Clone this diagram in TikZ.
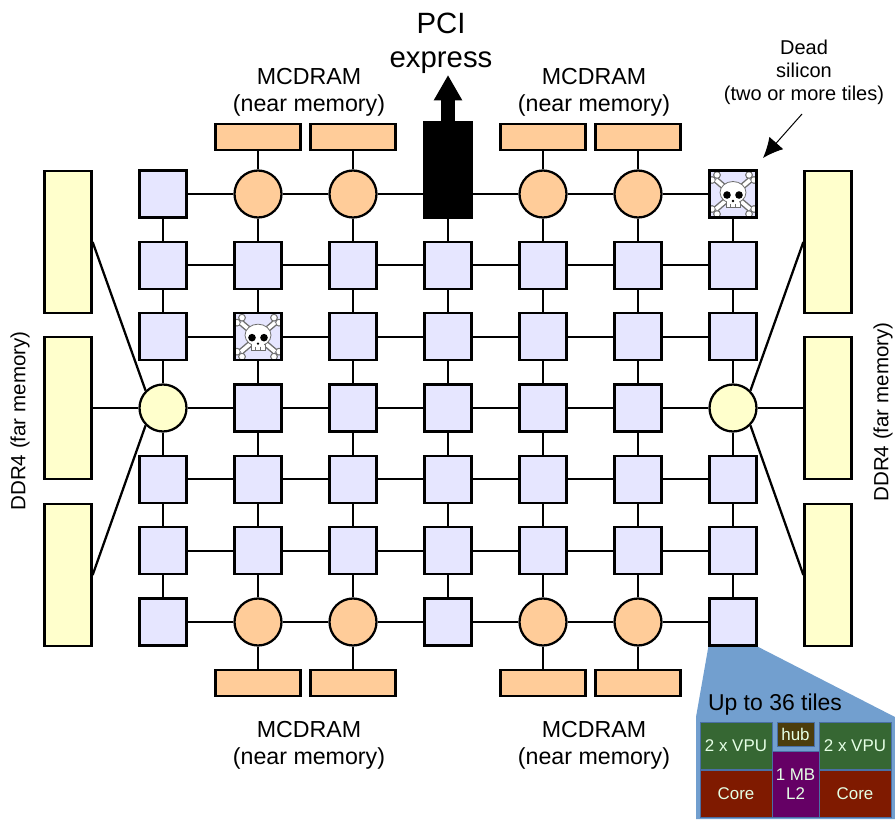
\documentclass[tikz,border=0pt]{standalone}
\usepackage{fontspec}
\setmainfont{Liberation Sans}
\usepackage{xcolor}
\usetikzlibrary{positioning, arrows.meta}

\definecolor{tilefill}{HTML}{E6E6FF}
\definecolor{nearfill}{HTML}{FFCC99}
\definecolor{farfill}{HTML}{FFFFCC}
\definecolor{insetblue}{HTML}{729FCF}
\definecolor{insetline}{HTML}{4A6FA5}
\definecolor{vpugreen}{HTML}{366733}
\definecolor{corered}{HTML}{7F1A00}
\definecolor{l2purple}{HTML}{650065}
\definecolor{hubbrown}{HTML}{4C3D0D}
\definecolor{boneline}{HTML}{6E6E6E}

\newcommand{\skullmark}{%
    \foreach \col/\wd/\knob in {boneline/4.8pt/3.9, white/2.7pt/2.7} {
        \foreach \sgn in {1,-1} {
            \draw[\col, line width=\wd] (-17*\sgn,-14) -- (17*\sgn,15);
            \fill[\col] (-21*\sgn,-14) circle (\knob) (-16*\sgn,-19) circle (\knob)
                        (16*\sgn,20) circle (\knob) (21*\sgn,15) circle (\knob);
        }
    }
    \draw[boneline, fill=white, line width=.6pt] (-7,5) rectangle (7,13.5);
    \draw[boneline, fill=white, line width=.6pt] (0,-1.5) ellipse (13 and 11);
    \fill[white] (-6,4) rectangle (6,11);
    \fill[black] (-6,1) circle (3.8) (6,1) circle (3.8) (0,7) circle (1.3);
    \draw[boneline, line width=.5pt] (-2.5,10) -- (-2.5,13.5) (2.5,10) -- (2.5,13.5);
}

\tikzset{
    tile/.style={draw, line width=1.7pt, fill=tilefill, minimum size=35.25pt, inner sep=0pt},
    deadtile/.style={tile, path picture={
        \begin{scope}[shift={(path picture bounding box.center)}] \skullmark \end{scope}}},
    nearhub/.style={draw, circle, line width=1.7pt, fill=nearfill, minimum size=35.25pt, inner sep=0pt},
    farhub/.style={draw, circle, line width=1.7pt, fill=farfill, minimum size=35.25pt, inner sep=0pt},
    pcihub/.style={tile, fill=black},
    nearbank/.style={draw, line width=1.7pt, fill=nearfill, minimum width=63.75pt, minimum height=19.5pt, inner sep=0pt},
    farbank/.style={draw, line width=1.7pt, fill=farfill, minimum width=35.25pt, minimum height=106.5pt, inner sep=0pt},
    link/.style={line width=1.7pt},
    caption/.style={align=center, font=\fontsize{17.4pt}{20pt}\selectfont},
    sidecaption/.style={rotate=90, font=\fontsize{15.4pt}{18pt}\selectfont},
    part/.style={draw=insetline, line width=.75pt, inner sep=0pt, align=center, text=white!90!green,
        font=\fontsize{12.7pt}{14.25pt}\selectfont},
}

\begin{document}
\begin{tikzpicture}[x=.75pt, y=-.75pt, on grid]
    \useasboundingbox (0,0) rectangle (895,819);

    % mesh of tiles
    \foreach \kinds [count=\r] in {
        {tile,nearhub,nearhub,pcihub,nearhub,nearhub,deadtile},
        {tile,tile,tile,tile,tile,tile,tile},
        {tile,deadtile,tile,tile,tile,tile,tile},
        {farhub,tile,tile,tile,tile,tile,farhub},
        {tile,tile,tile,tile,tile,tile,tile},
        {tile,tile,tile,tile,tile,tile,tile},
        {tile,nearhub,nearhub,tile,nearhub,nearhub,tile}} {
        \foreach \kind [count=\c] in \kinds {
            \node[\kind] (n\r\c) at ({68+95*\c},{194+71.33*(\r-1)}) {};
        }
    }

    \foreach \r in {1,...,7} {
        \foreach \a/\b in {1/2,2/3,3/4,4/5,5/6,6/7} {
            \draw[link] (n\r\a) -- (n\r\b);
            \draw[link] (n\a\r) -- (n\b\r);
        }
    }

    % near memory
    \node[nearbank, above=42.75pt of n12] (top1) {};
    \node[nearbank, above=42.75pt of n13] (top2) {};
    \node[nearbank, above=42.75pt of n15] (top3) {};
    \node[nearbank, above=42.75pt of n16] (top4) {};
    \node[nearbank, below=45.75pt of n72] (bot1) {};
    \node[nearbank, below=45.75pt of n73] (bot2) {};
    \node[nearbank, below=45.75pt of n75] (bot3) {};
    \node[nearbank, below=45.75pt of n76] (bot4) {};
    \draw[link] (top1) -- (n12) (top2) -- (n13) (top3) -- (n15) (top4) -- (n16);
    \draw[link] (bot1) -- (n72) (bot2) -- (n73) (bot3) -- (n75) (bot4) -- (n76);

    \node[caption] (toplabel1) at (309,92) {MCDRAM\\(near memory)};
    \node[caption] (toplabel2) at (594,92) {MCDRAM\\(near memory)};
    \node[caption] (botlabel1) at (309,745) {MCDRAM\\(near memory)};
    \node[caption] (botlabel2) at (594,745) {MCDRAM\\(near memory)};

    % far memory
    \node[farbank, left=71.25pt of n41] (west2) {};
    \node[farbank, above=124.5pt of west2] (west1) {};
    \node[farbank, below=125.25pt of west2] (west3) {};
    \node[farbank, right=71.25pt of n47] (east2) {};
    \node[farbank, above=124.5pt of east2] (east1) {};
    \node[farbank, below=125.25pt of east2] (east3) {};
    \draw[link] (west1.east) -- (n41.135);
    \draw[link] (west2) -- (n41);
    \draw[link] (west3.east) -- (n41.225);
    \draw[link] (east1.west) -- (n47.45);
    \draw[link] (east2) -- (n47);
    \draw[link] (east3.west) -- (n47.315);

    \node[sidecaption] (farlabel1) at (20,421) {DDR4 (far memory)};
    \node[sidecaption] (farlabel2) at (883,412) {DDR4 (far memory)};

    % pci express
    \node[tile, fill=black, minimum height=35.25pt] (pcitop) at (448,146) {};
    \coordinate (pcitip) at (448,75);
    \draw[-{Triangle[length=19pt, width=20pt]}, line width=10.5pt] (pcitop.north) -- (pcitip);
    \node[align=center, font=\fontsize{22pt}{25.5pt}\selectfont] (pcilabel) at (441,43) {PCI\\express};

    % dead silicon
    \node[align=center, inner sep=0pt, font=\fontsize{15pt}{17.25pt}\selectfont] (deadlabel) at (804,72.5) {Dead\\silicon\\(two or more tiles)};
    \coordinate (deadfrom) at (802,114);
    \coordinate (deadtip) at (763,158);
    \draw[-{Latex[length=15pt, width=14pt]}, line width=.75pt] (deadfrom) -- (deadtip);

    % one tile, enlarged
    \fill[insetblue] (n77.south west) -- (n77.south east) -- (895,717) -- (895,819) -- (696,819) -- (696,717) -- cycle;
    \node[tile] at (n77) {};
    \node[font=\fontsize{17.2pt}{18pt}\selectfont] (insetlabel) at (775,705) {Up to 36 tiles};
    \node[part, fill=vpugreen, minimum width=54pt, minimum height=35.25pt] (vpu1) at (736,746) {2 x VPU};
    \node[part, fill=corered, minimum width=54pt, minimum height=35.25pt] (core1) at (736,793.5) {Core};
    \node[part, fill=vpugreen, minimum width=54pt, minimum height=35.25pt] (vpu2) at (855,746) {2 x VPU};
    \node[part, fill=corered, minimum width=54pt, minimum height=35.25pt] (core2) at (855,793.5) {Core};
    \node[part, fill=l2purple, minimum width=35.25pt, minimum height=49.5pt] (l2cache) at (795.5,784) {1 MB\\L2};
    \node[part, fill=hubbrown, minimum width=27.75pt, minimum height=18pt] (hubpart) at (795.5,734) {hub};
\end{tikzpicture}
\end{document}
